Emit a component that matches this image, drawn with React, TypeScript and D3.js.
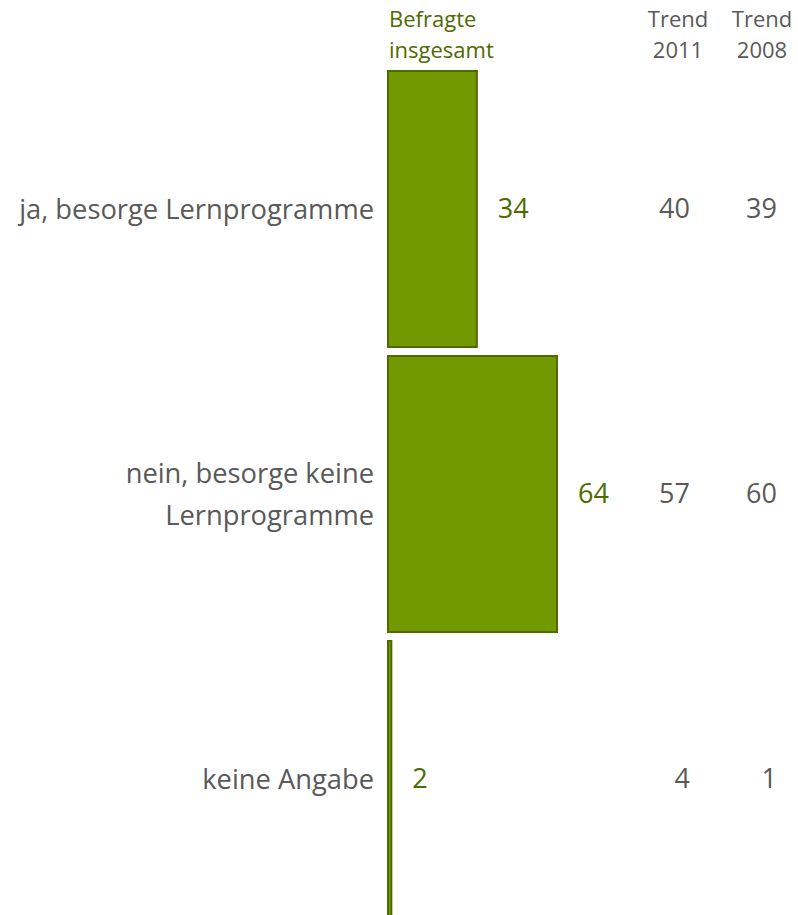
import React from "react";
import * as d3 from "d3";

const categories: string[][] = [
  ["ja, besorge Lernprogramme"],
  ["nein, besorge keine", "Lernprogramme"],
  ["keine Angabe"],
];
const totals = [34, 64, 2];
const trend2011 = [40, 57, 4];
const trend2008 = [39, 60, 1];
const headers = {
  total: ["Befragte", "insgesamt"],
  t2011: ["Trend", "2011"],
  t2008: ["Trend", "2008"],
};

const W = 798;
const H = 915;
const FONT = "'Open Sans', 'DejaVu Sans', sans-serif";
const FILL = "#739900";
const STROKE = "#4f6a00";
const GREEN_TEXT = "#4f6a00";
const GRAY = "#595959";

export default function App() {
  const x = d3.scaleLinear().domain([0, 64]).range([387, 558]);
  const y = d3
    .scaleBand<number>()
    .domain(d3.range(categories.length))
    .range([70, 918])
    .paddingInner(0.0246)
    .paddingOuter(0);

  return (
    <svg
      width={W}
      height={H}
      style={{ position: "absolute", left: 0, top: 0, background: "#fff" }}
      fontFamily={FONT}
    >
      {/* headers */}
      <g fill={GREEN_TEXT} fontSize={22}>
        {headers.total.map((t, i) => (
          <text key={i} x={389} y={27 + i * 31}>
            {t}
          </text>
        ))}
      </g>
      <g fill={GRAY} fontSize={22} textAnchor="middle">
        {headers.t2011.map((t, i) => (
          <text key={i} x={678} y={27 + i * 31}>
            {t}
          </text>
        ))}
        {headers.t2008.map((t, i) => (
          <text key={"b" + i} x={762} y={27 + i * 31}>
            {t}
          </text>
        ))}
      </g>

      {totals.map((v, i) => {
        const y0 = y(i)!;
        const bh = y.bandwidth();
        const cy = y0 + bh / 2;
        const lines = categories[i];
        return (
          <g key={i}>
            <rect
              x={x(0) + 1}
              y={y0 + 1}
              width={Math.max(x(v) - x(0) - 2, 1)}
              height={bh - 2}
              fill={FILL}
              stroke={STROKE}
              strokeWidth={2}
            />
            {lines.map((l, j) => (
              <text
                key={j}
                x={374}
                y={cy + (j - (lines.length - 1) / 2) * 42}
                dy="0.35em"
                textAnchor="end"
                fontSize={27.3}
                fill={GRAY}
              >
                {l}
              </text>
            ))}
            <text
              x={x(v) + 20}
              y={cy}
              dy="0.35em"
              fontSize={27}
              fill={GREEN_TEXT}
            >
              {v}
            </text>
            <text
              x={690}
              y={cy}
              dy="0.35em"
              textAnchor="end"
              fontSize={27}
              fill={GRAY}
            >
              {trend2011[i]}
            </text>
            <text
              x={777}
              y={cy}
              dy="0.35em"
              textAnchor="end"
              fontSize={27}
              fill={GRAY}
            >
              {trend2008[i]}
            </text>
          </g>
        );
      })}
    </svg>
  );
}
